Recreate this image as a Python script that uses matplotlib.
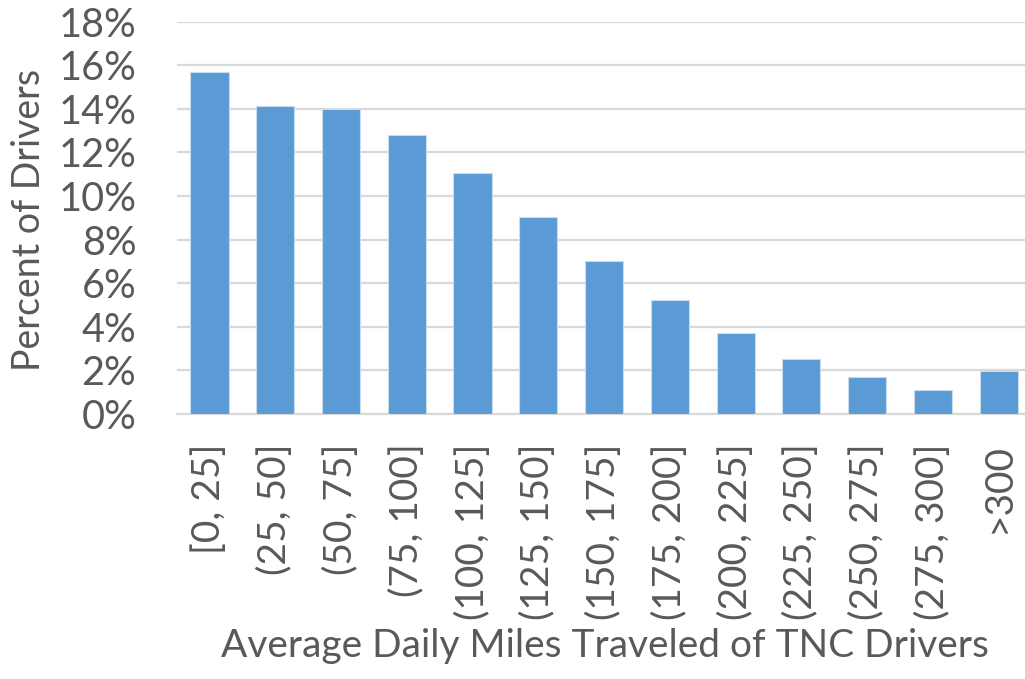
import matplotlib
matplotlib.use("Agg")
import matplotlib.pyplot as plt
from matplotlib.ticker import FuncFormatter

categories = ["[0, 25]", "(25, 50]", "(50, 75]", "(75, 100]", "(100, 125]",
              "(125, 150]", "(150, 175]", "(175, 200]", "(200, 225]",
              "(225, 250]", "(250, 275]", "(275, 300]", ">300"]
percent_drivers = [15.7, 14.15, 13.98, 12.78, 11.06, 9.04, 7.0,
                   5.22, 3.73, 2.54, 1.72, 1.12, 1.96]
y_ticks = [0, 2, 4, 6, 8, 10, 12, 14, 16, 18]

text_color = "#595959"
bar_color = "#5b9bd5"
grid_color = "#d9d9d9"

plt.rcParams["font.family"] = ["Lato", "DejaVu Sans"]

fig = plt.figure(figsize=(10.25, 6.79), dpi=100)
# plot area runs slightly past the right edge of the canvas
ax = fig.add_axes([176.6 / 1025, 1 - 414 / 679, 855 / 1025, (414 - 21.7) / 679])

x = list(range(len(categories)))
ax.bar(x, percent_drivers, width=0.58, color=bar_color,
       edgecolor="#c9dcef", linewidth=0.8, zorder=3)

ax.set_xlim(-0.5, len(categories) - 0.5)
ax.set_ylim(0, 18)
ax.set_yticks(y_ticks)
ax.yaxis.set_major_formatter(FuncFormatter(lambda v, _: f"{v:.0f}%"))
ax.grid(axis="y", color=grid_color, linewidth=1.6, zorder=0)
ax.set_axisbelow(True)

for side in ("top", "right", "left"):
    ax.spines[side].set_visible(False)
ax.spines["bottom"].set_color(grid_color)
ax.spines["bottom"].set_linewidth(1.6)

ax.set_xticks(x)
ax.set_xticklabels(categories, rotation=90, va="top", ha="center")
ax.tick_params(axis="x", length=0, pad=21, labelsize=28, colors=text_color)
ax.tick_params(axis="y", length=0, pad=29, labelsize=28.5, colors=text_color)

ax.set_xlabel("Average Daily Miles Traveled of TNC Drivers", fontsize=28,
              color=text_color)
ax.set_ylabel("Percent of Drivers", fontsize=27, color=text_color)
ax.xaxis.set_label_coords((605 - 176.6) / 855, -0.545)
ax.yaxis.set_label_coords((47 - 176.6) / 855, 0.495)

fig.savefig("out.png", dpi=100, facecolor="white")
